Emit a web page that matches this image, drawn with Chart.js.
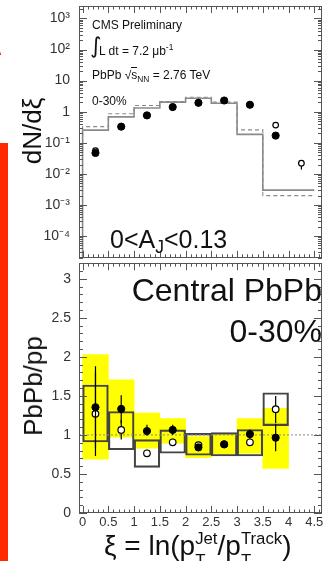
<!DOCTYPE html>
<html>
<head>
<meta charset="utf-8">
<script src="https://cdn.jsdelivr.net/npm/chart.js@4.4.1/dist/chart.umd.min.js"></script>
<style>
  html, body { margin: 0; padding: 0; background: #fff; }
  body { position: relative; width: 331px; height: 561px; overflow: hidden; font-family: "Liberation Sans", Arial, sans-serif; }
  canvas { position: absolute; left: 0; }
  #top { top: 0; }
  #bot { top: 258px; }
  .t { position: absolute; white-space: nowrap; line-height: 1; color: #111; }
  .sp { font-size: 0.7em; position: relative; top: -0.55em; }
  .sb { font-size: 0.7em; position: relative; top: 0.3em; }
  .ol { border-top: 1px solid #111; }
  .st { display: inline-block; position: relative; font-size: 0.6em; }
  .st .u { position: relative; top: -0.68em; }
  .st .d { position: absolute; left: 0; top: 0.65em; }
  .rot { transform: translate(-50%, -50%) rotate(-90deg); }
</style>
</head>
<body>
<canvas id="top" width="331" height="263"></canvas>
<canvas id="bot" width="331" height="303"></canvas>

<div style="position:absolute;left:0;top:143px;width:8px;height:418px;background:#ff2a00"></div>
<div class="t" style="left:-14px;top:37px;font-size:22px;font-weight:bold;color:#ff2a00">A</div>

<div class="t" style="left:92px;top:19px;font-size:12px">CMS Preliminary</div>
<div class="t" style="left:90px;top:35px;font-size:22px;font-family:'DejaVu Sans'">∫</div>
<div class="t" style="left:99px;top:45px;font-size:12px">L dt = 7.2 μb<span class="sp">-1</span></div>
<div class="t" style="left:92px;top:69px;font-size:12px">PbPb √<span class="ol">s</span><span class="sb">NN</span> = 2.76 TeV</div>
<div class="t" style="left:92px;top:95px;font-size:12px">0-30%</div>
<div class="t" style="left:110px;top:227px;font-size:25px">0&lt;A<span class="sb">J</span>&lt;0.13</div>

<div class="t" style="right:9px;top:274px;font-size:32px">Central PbPb</div>
<div class="t" style="right:9px;top:315px;font-size:32px">0-30%</div>

<div class="t rot" style="left:32px;top:131px;font-size:26px">dN/dξ</div>
<div class="t rot" style="left:33px;top:386px;font-size:26px">PbPb/pp</div>
<div class="t" style="left:104px;top:532px;font-size:28px">ξ = ln(p<span class="st"><span class="u">Jet</span><span class="d">T</span></span>/p<span class="st"><span class="u">Track</span><span class="d">T</span></span>)</div>

<script>
// bins in xi
const binEdges = [0, 0.5, 1, 1.5, 2, 2.5, 3, 3.5, 4, 4.5];
const binCenters = [0.25, 0.75, 1.25, 1.75, 2.25, 2.75, 3.25, 3.75, 4.25];

// upper panel, dN/dxi
const histSolid = [0.032, 0.255, 0.68, 1.31, 2.03, 2.72, 1.86, 0.186, 0.0030];
const histDashed = [0.054, 0.33, 0.86, 1.58, 2.12, 2.93, 2.03, 0.26, 0.0020];
const pbpbTop = [0.047, 0.33, 0.76, 1.41, 1.93, 2.29, 1.67, 0.17];
const openTop = [0.056, 0.33, 0.76, 1.41, 1.93, 2.29, 1.67, 0.37, 0.022];
const openTopErrLo = [null, null, null, null, null, null, null, null, 0.0137];
const openTopErrHi = [null, null, null, null, null, null, null, null, 0.027];

// lower panel, PbPb/pp
const ratioFilled = [1.355, 1.333, 1.05, 1.064, 0.84, 0.88, 1.01, 0.965];
const ratioFilledErrLo = [0.83, 1.15, 0.99, 1.0, 0.80, 0.85, 0.95, 0.79];
const ratioFilledErrHi = [1.88, 1.51, 1.13, 1.13, 0.88, 0.91, 1.07, 1.14];
const ratioOpen = [1.27, 1.064, 0.765, 0.906, 0.87, 0.88, 0.906, 1.33];
const ratioOpenErrLo = [0.73, 0.94, 0.72, 0.86, 0.83, 0.85, 0.86, 1.15];
const ratioOpenErrHi = [1.81, 1.19, 0.81, 0.95, 0.91, 0.91, 0.95, 1.50];
const sysFilledLo = [0.69, 0.97, 0.83, 0.895, 0.71, 0.75, 0.765, 0.57];
const sysFilledHi = [2.03, 1.705, 1.28, 1.21, 0.98, 1.01, 1.21, 1.34];
const sysOpenLo = [0.91, 0.81, 0.585, 0.765, 0.74, 0.73, 0.73, 1.12];
const sysOpenHi = [1.64, 1.30, 0.94, 1.064, 1.02, 1.03, 1.07, 1.54];
const unity = 1;

// ticks
const xTicks = [0, 0.5, 1, 1.5, 2, 2.5, 3, 3.5, 4, 4.5];
const xTickLabels = ['0', '0.5', '1', '1.5', '2', '2.5', '3', '3.5', '4', '4.5'];
const topTicks = [1e-4, 1e-3, 1e-2, 1e-1, 1, 10, 100, 1000];
const topTickLabels = ['10⁻⁴', '10⁻³', '10⁻²', '10⁻¹', '1', '10', '10²', '10³'];
const ratioTicks = [0, 0.5, 1, 1.5, 2, 2.5, 3];
const ratioTickLabels = ['0', '0.5', '1', '1.5', '2', '2.5', '3'];

const X_MIN = -0.07, X_MAX = 4.65;
const TOP_MIN = Math.pow(10, -4.7), TOP_MAX = Math.pow(10, 3.4);

// minor tick positions (axis decoration only)
const xMinor = [];
for (let k = 0; k <= 46; k++) if (k % 5) xMinor.push(k / 10);
const logMinor = [];
for (let d = -5; d <= 3; d++) for (let m = 2; m <= 9; m++) {
  const v = m * Math.pow(10, d);
  if (v > TOP_MIN && v < TOP_MAX) logMinor.push(v);
}
const ratioMinor = [];
for (let k = 0; k <= 32; k++) if (k % 5) ratioMinor.push(k / 10);

const axisColor = '#555';
const labelFont = { family: "'Liberation Sans', Arial, sans-serif", size: 14 };

// ROOT-like frame: ticks pointing inward on all four sides
const rootFrame = {
  id: 'rootFrame',
  afterDatasetsDraw(chart, args, o) {
    const { ctx, chartArea: a, scales } = chart;
    const xs = scales.x, ys = scales.y;
    ctx.save();
    ctx.strokeStyle = axisColor;
    ctx.lineWidth = 1;
    ctx.beginPath();
    const seg = (x1, y1, x2, y2) => { ctx.moveTo(x1, y1); ctx.lineTo(x2, y2); };
    const xt = (vals, len) => vals.forEach(v => {
      const p = Math.round(xs.getPixelForValue(v)) + 0.5;
      seg(p, a.bottom, p, a.bottom - len);
      seg(p, a.top, p, a.top + len);
    });
    const yt = (vals, len) => vals.forEach(v => {
      const p = Math.round(ys.getPixelForValue(v)) + 0.5;
      seg(a.left, p, a.left + len, p);
      seg(a.right, p, a.right - len, p);
    });
    xt(o.xMajor, 7); xt(o.xMinor, 3.5);
    yt(o.yMajor, 8); yt(o.yMinor, 4);
    ctx.stroke();
    ctx.strokeRect(Math.round(a.left) + 0.5, Math.round(a.top) + 0.5, Math.round(a.width) - 1, Math.round(a.height) - 1);
    ctx.restore();
  }
};

// vertical error bars, drawn just under their own points
const errorBars = {
  id: 'errorBars',
  beforeDatasetDraw(chart, args) {
    const ds = chart.data.datasets[args.index];
    if (!ds.errLo) return;
    const { ctx } = chart;
    const xs = chart.scales.x, ys = chart.scales.y;
    ctx.save();
    ctx.strokeStyle = '#000';
    ctx.lineWidth = 1.2;
    ds.data.forEach((pt, i) => {
      if (ds.errLo[i] == null) return;
      const px = xs.getPixelForValue(pt.x);
      ctx.beginPath();
      ctx.moveTo(px, ys.getPixelForValue(ds.errLo[i]));
      ctx.lineTo(px, ys.getPixelForValue(ds.errHi[i]));
      ctx.stroke();
    });
    ctx.restore();
  }
};

function fixSize(size) {
  return s => {
    if (s.isHorizontal()) s.height = size; else s.width = size;
    s.paddingTop = 0; s.paddingBottom = 0; s.paddingLeft = 0; s.paddingRight = 0;
  };
}

function stepData(vals, fromFloor) {
  const pts = [];
  if (fromFloor) pts.push({ x: binEdges[0], y: 1e-6 });
  vals.forEach((v, i) => pts.push({ x: binEdges[i], y: v }));
  pts.push({ x: binEdges[vals.length], y: vals[vals.length - 1] });
  return pts;
}

const pts = (vals) => vals.map((v, i) => ({ x: binCenters[i], y: v }));
const boxes = (lo, hi) => lo.map((v, i) => ({ x: binCenters[i], y: [v, hi[i]] }));

// ---------- upper panel ----------
new Chart(document.getElementById('top'), {
  type: 'line',
  data: {
    datasets: [
      { type: 'line', data: stepData(histSolid, true), stepped: 'after', borderColor: '#8a8a8a',
        borderWidth: 1.6, pointRadius: 0, order: 5 },
      { type: 'line', data: stepData(histDashed, false), stepped: 'after', borderColor: '#8a8a8a',
        borderWidth: 1.1, borderDash: [4, 3], pointRadius: 0, order: 4 },
      { type: 'scatter', data: pts(openTop), errLo: openTopErrLo, errHi: openTopErrHi,
        pointRadius: 2.8, pointBackgroundColor: '#fff', pointBorderColor: '#000', pointBorderWidth: 1.2, order: 2 },
      { type: 'scatter', data: pts(pbpbTop), pointRadius: 3.6, pointBackgroundColor: '#000',
        pointBorderColor: '#000', pointBorderWidth: 1, order: 1 }
    ]
  },
  options: {
    responsive: false,
    animation: false,
    layout: { padding: { left: 0, right: 9, top: 6, bottom: 0 } },
    plugins: {
      legend: { display: false },
      tooltip: { enabled: false },
      rootFrame: { xMajor: xTicks, xMinor: xMinor, yMajor: topTicks, yMinor: logMinor }
    },
    scales: {
      x: {
        type: 'linear', min: X_MIN, max: X_MAX, offset: false,
        ticks: { display: false },
        grid: { display: false, drawTicks: false },
        border: { display: false },
        afterFit: fixSize(2)
      },
      y: {
        type: 'logarithmic', min: TOP_MIN, max: TOP_MAX,
        afterBuildTicks: s => { s.ticks = topTicks.map(v => ({ value: v })); },
        ticks: { callback: (v, i) => topTickLabels[i], font: labelFont, color: '#333', padding: 9, autoSkip: false },
        grid: { display: false, drawTicks: false },
        border: { display: false },
        afterFit: fixSize(79)
      }
    }
  },
  plugins: [rootFrame, errorBars]
});

// ---------- lower panel ----------
new Chart(document.getElementById('bot'), {
  type: 'line',
  data: {
    datasets: [
      { type: 'bar', data: boxes(sysFilledLo, sysFilledHi), backgroundColor: '#ffff00', borderWidth: 0,
        grouped: false, barPercentage: 1, categoryPercentage: 1, order: 6 },
      { type: 'bar', data: boxes(sysOpenLo, sysOpenHi), backgroundColor: 'rgba(0,0,0,0)', borderColor: '#444',
        borderWidth: 1.5, borderSkipped: false, grouped: false, barPercentage: 1, categoryPercentage: 1, order: 5 },
      { type: 'line', data: [{ x: X_MIN, y: unity }, { x: X_MAX, y: unity }], borderColor: '#888',
        borderWidth: 1, borderDash: [2, 2], pointRadius: 0, order: 4 },
      { type: 'scatter', data: pts(ratioOpen), errLo: ratioOpenErrLo, errHi: ratioOpenErrHi,
        pointRadius: 3.3, pointBackgroundColor: '#fff', pointBorderColor: '#000', pointBorderWidth: 1.2, order: 2 },
      { type: 'scatter', data: pts(ratioFilled), errLo: ratioFilledErrLo, errHi: ratioFilledErrHi,
        pointRadius: 3.6, pointBackgroundColor: '#000', pointBorderColor: '#000', pointBorderWidth: 1, order: 1 }
    ]
  },
  options: {
    responsive: false,
    animation: false,
    layout: { padding: { left: 0, right: 9, top: 5, bottom: 0 } },
    plugins: {
      legend: { display: false },
      tooltip: { enabled: false },
      rootFrame: { xMajor: xTicks, xMinor: xMinor, yMajor: ratioTicks, yMinor: ratioMinor }
    },
    scales: {
      x: {
        type: 'linear', min: X_MIN, max: X_MAX, offset: false,
        afterBuildTicks: s => { s.ticks = xTicks.map(v => ({ value: v })); },
        ticks: { callback: (v, i) => xTickLabels[i], font: { ...labelFont, size: 13 }, color: '#333',
                 padding: 2, autoSkip: false, maxRotation: 0 },
        grid: { display: false, drawTicks: false, offset: false },
        border: { display: false },
        afterFit: fixSize(48)
      },
      y: {
        type: 'linear', min: 0, max: 3.2,
        afterBuildTicks: s => { s.ticks = ratioTicks.map(v => ({ value: v })); },
        ticks: { callback: (v, i) => ratioTickLabels[i], font: labelFont, color: '#333', padding: 8, autoSkip: false },
        grid: { display: false, drawTicks: false },
        border: { display: false },
        afterFit: fixSize(79)
      }
    }
  },
  plugins: [rootFrame, errorBars]
});
</script>
</body>
</html>
